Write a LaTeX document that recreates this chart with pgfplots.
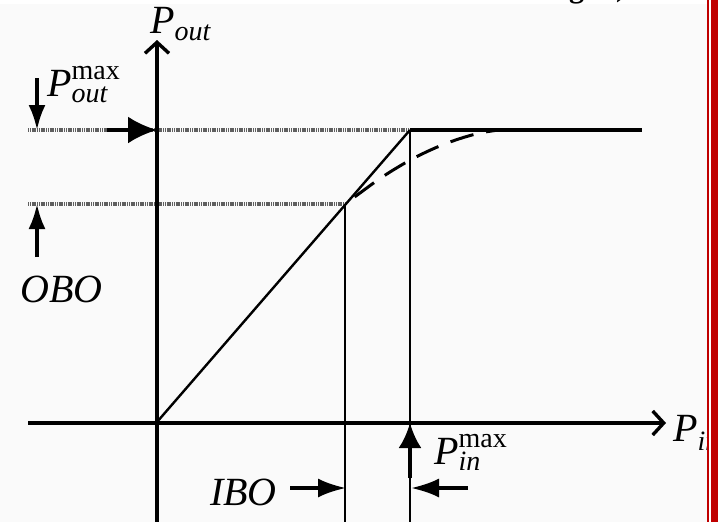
\documentclass[border=0pt]{standalone}
\usepackage{pgfplots}
\pgfplotsset{compat=1.18}
\usepackage{amsmath}
\usepackage{fontspec}
\setmainfont{Liberation Serif}
\usetikzlibrary{arrows.meta}
\definecolor{bord}{RGB}{192,0,0}
\definecolor{bg}{RGB}{250,250,250}
\definecolor{dotg}{RGB}{95,95,95}

\newcommand{\pw}[3]{$\text{\itshape #1}^{\text{#2}}_{\text{\itshape #3}}$}

\begin{document}
\begin{tikzpicture}[
  lbl/.style={font=\fontsize{40}{44}\selectfont, anchor=base west, inner sep=0pt}]
\begin{axis}[name=ax,
  width=718pt, height=522pt, scale only axis,
  xmin=0, xmax=718, ymin=0, ymax=522, y dir=reverse,
  axis lines=none, clip=false]

% background
\fill[bg] (0,4) rectangle (707,522);
\begin{scope}
  \clip (0,0) rectangle (707,4);
  \node[font=\bfseries\fontsize{30}{30}\selectfont, anchor=base west, inner sep=0pt] at (569,-2) {g};
  \node[font=\bfseries\fontsize{30}{30}\selectfont, anchor=base west, inner sep=0pt] at (616,-3) {)};
\end{scope}

% reference levels
\addplot[dotg, line width=3.2pt, dash pattern=on 1.2pt off 0.6pt] coordinates {(28,130) (410,130)};
\addplot[dotg, line width=3.2pt, dash pattern=on 1.2pt off 0.6pt] coordinates {(28,204) (345,204)};
\addplot[black, line width=1.8pt] coordinates {(345,204) (345,522)};
\addplot[black, line width=1.8pt] coordinates {(410,130) (410,522)};

% ideal limiter
\addplot[black, line width=2.4pt] coordinates {(157,422) (410,130)};
\addplot[black, line width=3.4pt] coordinates {(410,130) (642,130)};

% real amplifier (soft compression)
\addplot[black, line width=3pt, dash pattern=on 24pt off 13pt, dash phase=25pt, smooth] coordinates {
  (345,204) (360,193) (375,182) (390,172) (405,163) (420,155)
  (435,148) (450,142) (465,137) (480,133) (495,130.5) (502,130)};

% axes
\addplot[black, line width=3.4pt, -{Straight Barb[length=11pt,width=24pt]}] coordinates {(157,522) (157,40)};
\addplot[black, line width=3.4pt, -{Straight Barb[length=11pt,width=24pt]}] coordinates {(28,423) (666,423)};

% annotation arrows
\draw[line width=3.4pt, -{Latex[length=25pt,width=17pt]}] (37,78) -- (37,130);
\draw[line width=3.4pt, -{Latex[length=25pt,width=17pt]}] (37,257) -- (37,204);
\draw[line width=3.6pt, -{Latex[length=29pt,width=27pt]}] (107,130) -- (157,130);
\draw[line width=3.4pt, -{Latex[length=28pt,width=19pt]}] (290,488) -- (346,488);
\draw[line width=3.4pt, -{Latex[length=28pt,width=19pt]}] (468,488) -- (411,488);
\draw[line width=3.6pt, -{Latex[length=25pt,width=23pt]}] (410,478) -- (410,423);

% labels
\node[lbl] at (150,33) {$\text{\itshape P}_{\text{\itshape out}}$};
\node[lbl] at (47,96) {\pw{P}{max}{out}};
\node[lbl] at (20,302) {\itshape OBO};
\node[lbl] at (210,505) {\itshape IBO};
\node[lbl] at (434,464) {\pw{P}{max}{in}};
\node[lbl] at (673,441) {$\text{\itshape P}_{\text{\itshape in}}$};

% red frame at the right
\fill[bord] (707,0) rectangle (709,522);
\fill[white] (709,0) rectangle (711,522);
\fill[bord] (711,0) rectangle (718,522);
\end{axis}
\pgfresetboundingbox
\path (ax.south west) rectangle (ax.north east);
\end{tikzpicture}
\end{document}
